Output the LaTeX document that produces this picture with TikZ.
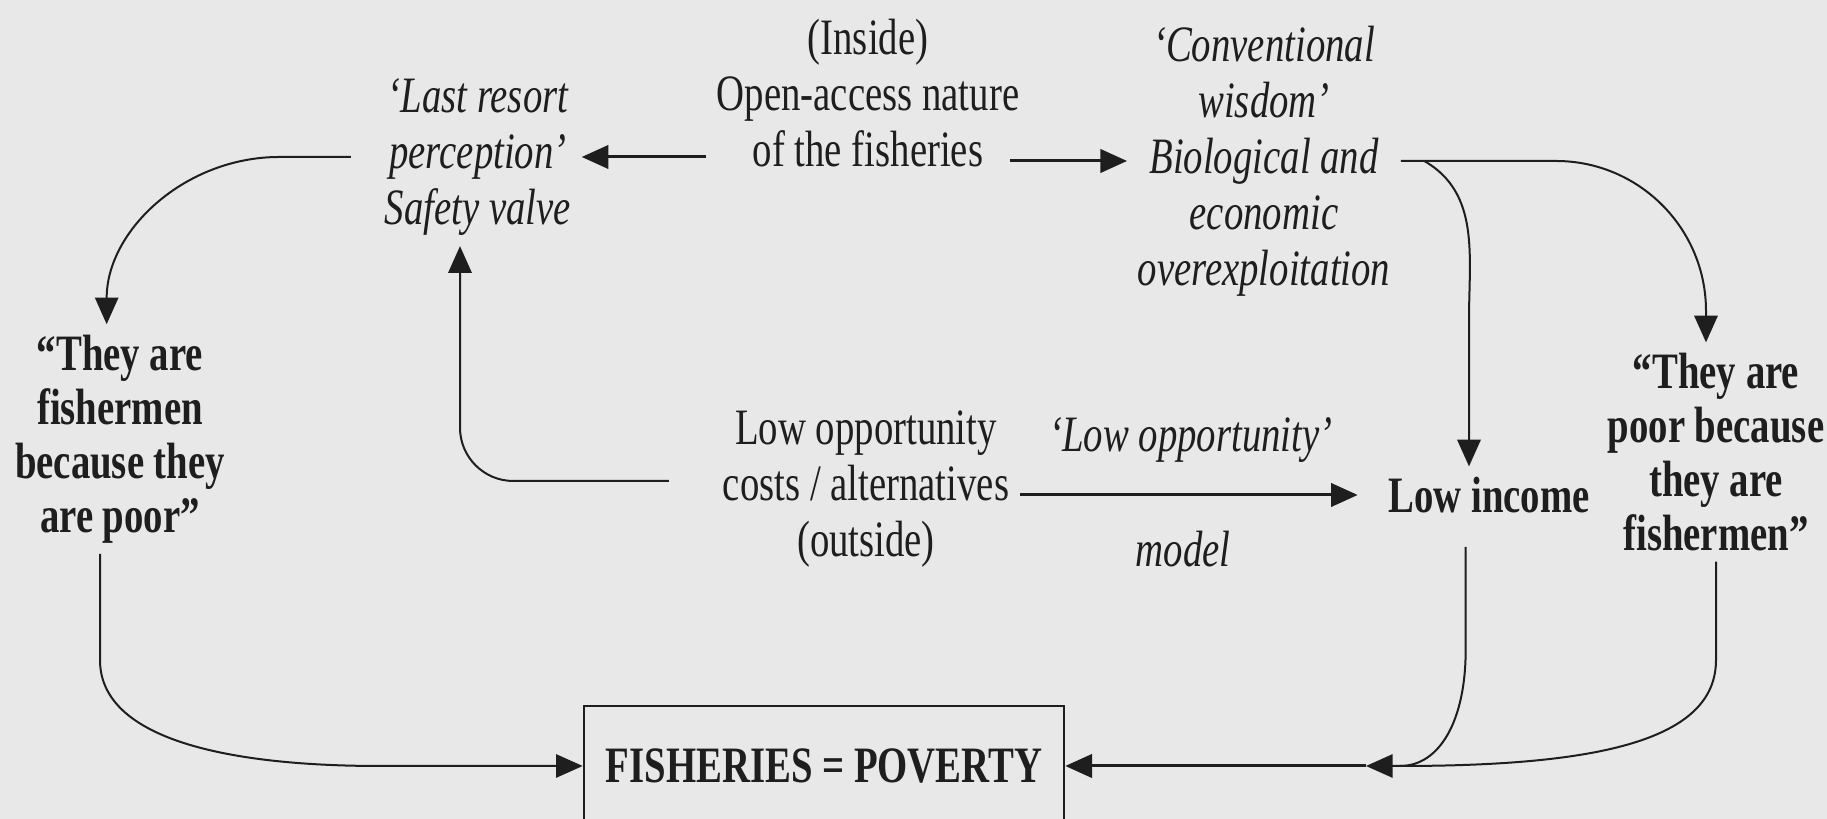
\documentclass[tikz,border=0pt]{standalone}
\usepackage{fontspec}
\setmainfont{Liberation Serif}[FakeStretch=0.76]
\usetikzlibrary{arrows.meta}
\definecolor{paper}{RGB}{232,232,232}
\definecolor{ink}{RGB}{30,30,30}

\begin{document}
\begin{tikzpicture}[x=0.3pt, y=-0.3pt,
    txt/.style={align=center, inner sep=3pt, text=ink, font=\fontsize{15.3}{16.8}\selectfont},
    itxt/.style={txt, font=\fontsize{15.3}{16.8}\selectfont\itshape},
    btxt/.style={txt, font=\fontsize{15.3}{16.2}\selectfont\bfseries},
    arr/.style={draw=ink, line width=0.9pt, -{Triangle[length=8pt,width=7pt]}},
    link/.style={arr, line width=0.6pt}]
    % Page
    \fill[paper] (0,0) rectangle (1827,819);
    \useasboundingbox (0,0) rectangle (1827,819);

    % Statements
    \node[txt] (inside) at (868,93) {(Inside)\\Open-access nature\\of the fisheries};
    \node[itxt] (resort) at (478,157) {‘Last resort\\perception’\\Safety valve};
    \node[itxt] (wisdom) at (1264,161) {‘Conventional\\wisdom’\\Biological and\\economic\\overexploitation};
    \node[btxt] (becausepoor) at (120,439) {“They are\\fishermen\\because they\\are poor”};
    \node[btxt] (becausefish) at (1716,452) {“They are\\poor because\\they are\\fishermen”};
    \node[txt] (lowopp) at (866,489) {Low opportunity\\costs / alternatives\\(outside)};
    \node[btxt, inner xsep=9pt] (income) at (1489,495) {Low income};
    \node[itxt] (modtop) at (1191,440) {‘Low opportunity’};
    \node[itxt] (modbot) at (1183,549) {model};
    \node[btxt, draw=ink, line width=0.8pt, minimum width=144pt, minimum height=36pt] (poverty) at (824,766) {FISHERIES = POVERTY};

    % Bend points
    \coordinate (insideE) at ([xshift=-6pt]inside.east);
    \coordinate (valve) at ([xshift=-5.4pt]resort.south);
    \coordinate (leftTop) at ([xshift=-4pt]becausepoor.north);
    \coordinate (leftfoot) at ([xshift=-6pt]becausepoor.south);
    \coordinate (incTop) at ([xshift=-6pt]income.north);
    \coordinate (incBot) at ([xshift=-7pt]income.south);
    \coordinate (merge) at (poverty.east -| 1400,0);
    \coordinate (join) at (poverty.east -| 1366,0);

    % Top row
    \draw[arr] (inside.west |- resort) -- (resort.east);
    \draw[arr] (insideE |- wisdom) -- (wisdom.west);

    % Left loop
    \draw[link, shorten <=7pt] (resort.west) -- ++(-95,0) to[out=180,in=90] (leftTop);
    \draw[link, rounded corners=16pt, shorten <=13pt] ([yshift=2.4pt]lowopp.west) -| (valve);
    \draw[link] (leftfoot) -- (leftfoot |- 0,660) .. controls +(0,80) and +(-150,0) .. (poverty.west -| 380,0) -- (poverty.west);

    % Middle
    \draw[arr] (lowopp.east |- income) -- (income.west);

    % Right loop
    \draw[link, rounded corners=45pt] (wisdom.east) -| ([xshift=-3pt]becausefish.north);
    \draw[link] ([xshift=7pt]wisdom.east) to[out=-30,in=90] (incTop |- 0,320) -- (incTop);
    \draw[link, shorten <=7pt, -] (incBot) -- (incBot |- 0,650) .. controls +(0,70) and +(40,0) .. (merge);
    \draw[link] (becausefish.south) -- (becausefish.south |- 0,660) .. controls +(0,80) and +(200,0) .. (merge) -- (join);
    \draw[arr] (join) -- (poverty.east);
\end{tikzpicture}
\end{document}
